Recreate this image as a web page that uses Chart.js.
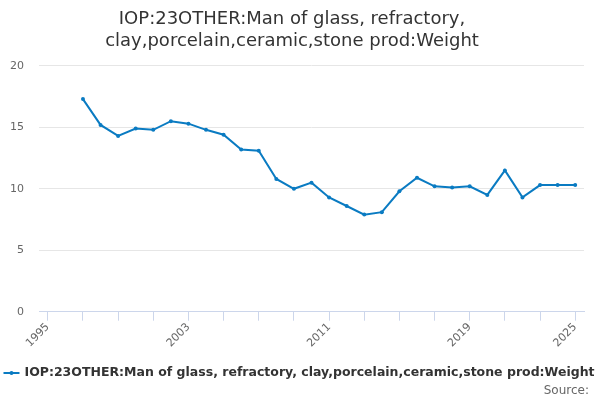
<!DOCTYPE html>
<html>
<head>
<meta charset="utf-8">
<script src="https://cdn.jsdelivr.net/npm/chart.js@4"></script>
<style>
  html, body { margin: 0; padding: 0; background: #fff; }
  #wrap { width: 600px; height: 400px; position: relative; }
</style>
</head>
<body>
<div id="wrap"><canvas id="c" width="600" height="400"></canvas></div>
<script>
const years = [1997,1998,1999,2000,2001,2002,2003,2004,2005,2006,2007,2008,2009,2010,2011,2012,2013,2014,2015,2016,2017,2018,2019,2020,2021,2022,2023,2024,2025];
const values = [17.3,15.2,14.3,14.9,14.8,15.5,15.3,14.8,14.4,13.2,13.1,10.8,10.0,10.5,9.3,8.6,7.9,8.1,9.8,10.9,10.2,10.1,10.2,9.5,11.5,9.3,10.3,10.3,10.3];
const tickYears = [1995,1997,1999,2001,2003,2005,2007,2009,2011,2013,2015,2017,2019,2021,2023,2025];
const labelYears = [1995,2003,2011,2019,2025];
const yTicks = [0,5,10,15,20];
const seriesName = 'IOP:23OTHER:Man of glass, refractory, clay,porcelain,ceramic,stone prod:Weight';
const titleLines = ['IOP:23OTHER:Man of glass, refractory,', 'clay,porcelain,ceramic,stone prod:Weight'];
const sourceText = 'Source:';

const lineColor = '#0a7bc2';
const FONT = '"DejaVu Sans", sans-serif';

const legendPlugin = {
  id: 'customLegend',
  afterDraw(chart) {
    const ctx = chart.ctx;
    ctx.save();
    ctx.font = 'bold 12.5px ' + FONT;
    const tw = ctx.measureText(seriesName).width;
    const markW = 16, gap = 5;
    const total = markW + gap + tw;
    let x0 = (600 - total) / 2 - 1;
    const y = 373;
    ctx.strokeStyle = lineColor;
    ctx.lineWidth = 2;
    ctx.beginPath(); ctx.moveTo(x0, y); ctx.lineTo(x0 + markW, y); ctx.stroke();
    ctx.fillStyle = lineColor;
    ctx.beginPath(); ctx.arc(x0 + markW / 2, y, 2, 0, Math.PI * 2); ctx.fill();
    ctx.fillStyle = '#333333';
    ctx.textBaseline = 'middle';
    ctx.textAlign = 'left';
    ctx.fillText(seriesName, x0 + markW + gap, y);
    ctx.font = '12px ' + FONT;
    ctx.fillStyle = '#666666';
    ctx.textAlign = 'right';
    ctx.fillText(sourceText, 589, 391);
    ctx.restore();
  }
};

new Chart(document.getElementById('c'), {
  type: 'line',
  data: {
    datasets: [{
      label: seriesName,
      data: years.map((y, i) => ({ x: y, y: values[i] })),
      borderColor: lineColor,
      backgroundColor: lineColor,
      borderWidth: 2,
      pointRadius: 2,
      pointBorderWidth: 0,
      pointHoverRadius: 3,
      tension: 0,
      fill: false
    }]
  },
  plugins: [legendPlugin],
  options: {
    responsive: false,
    animation: false,
    devicePixelRatio: 1,
    layout: { padding: { left: 0, right: 16, top: 0, bottom: 40 } },
    plugins: {
      legend: { display: false },
      tooltip: { enabled: false },
      title: {
        display: true,
        text: titleLines,
        color: '#333333',
        font: { family: FONT, size: 18, weight: 'normal', lineHeight: 1.22 },
        padding: { top: 8, bottom: 14 }
      }
    },
    scales: {
      x: {
        type: 'linear',
        min: 1994.5,
        max: 2025.5,
        afterBuildTicks(scale) { scale.ticks = tickYears.map(v => ({ value: v })); },
        afterFit(scale) { scale.height = 48.3; },
        ticks: {
          autoSkip: false,
          maxRotation: 45,
          minRotation: 45,
          color: '#666666',
          font: { family: FONT, size: 11 },
          padding: 0,
          callback: (v) => labelYears.includes(v) ? String(v) : ''
        },
        grid: {
          drawOnChartArea: false,
          drawTicks: true,
          tickLength: 9,
          color: '#ccd6eb'
        },
        border: { display: true, color: '#ccd6eb', width: 1 }
      },
      y: {
        min: 0,
        max: 20,
        afterBuildTicks(scale) { scale.ticks = yTicks.map(v => ({ value: v })); },
        afterFit(scale) { scale.width = 39; },
        ticks: {
          color: '#666666',
          font: { family: FONT, size: 11 },
          padding: 15
        },
        grid: {
          drawTicks: false,
          color: (c) => c.tick && c.tick.value === 0 ? 'rgba(0,0,0,0)' : '#e6e6e6'
        },
        border: { display: false }
      }
    }
  }
});
</script>
</body>
</html>
